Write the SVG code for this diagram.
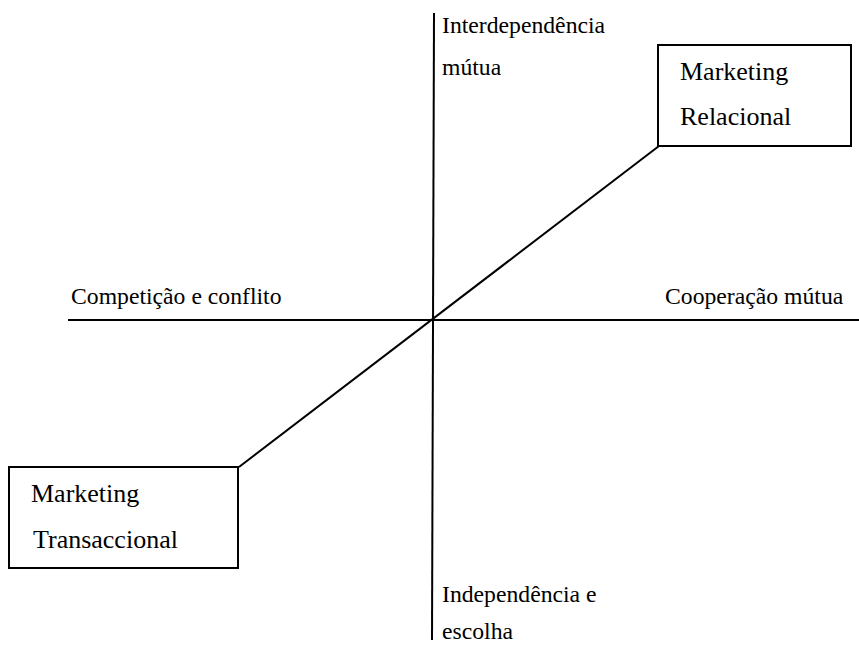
<svg xmlns="http://www.w3.org/2000/svg" width="859" height="645" viewBox="0 0 859 645">
  <style>
    .axis { stroke: #000; stroke-width: 2; fill: none; }
    .box { fill: #fff; stroke: #000; stroke-width: 2; }
    .lbl { font-family: "Liberation Serif", "Times New Roman", serif; font-size: 23.7px; fill: #000; }
    .boxtxt { font-family: "Liberation Serif", "Times New Roman", serif; font-size: 26px; fill: #000; }
  </style>
  <rect width="859" height="645" fill="#fff"/>

  <!-- axes and diagonal -->
  <g id="connectors">
    <line class="axis" x1="434" y1="13" x2="432" y2="640"/>
    <line class="axis" x1="68" y1="320" x2="859" y2="320"/>
    <line class="axis" x1="239" y1="467" x2="659" y2="146"/>
  </g>

  <!-- axis labels -->
  <g id="label-top">
    <text class="lbl" x="442" y="33">Interdependência</text>
    <text class="lbl" x="442" y="75">mútua</text>
  </g>
  <g id="label-bottom">
    <text class="lbl" x="442" y="602">Independência e</text>
    <text class="lbl" x="442" y="639">escolha</text>
  </g>
  <g id="label-left">
    <text class="lbl" x="71" y="304">Competição e conflito</text>
  </g>
  <g id="label-right">
    <text class="lbl" x="665" y="304">Cooperação mútua</text>
  </g>

  <!-- corner boxes -->
  <g id="relacional">
    <rect class="box" x="658" y="45" width="193" height="101"/>
    <text class="boxtxt" x="680" y="80">Marketing</text>
    <text class="boxtxt" x="680" y="125">Relacional</text>
  </g>
  <g id="transaccional">
    <rect class="box" x="9" y="467" width="229" height="101"/>
    <text class="boxtxt" x="31" y="502">Marketing</text>
    <text class="boxtxt" x="33" y="548">Transaccional</text>
  </g>
</svg>
